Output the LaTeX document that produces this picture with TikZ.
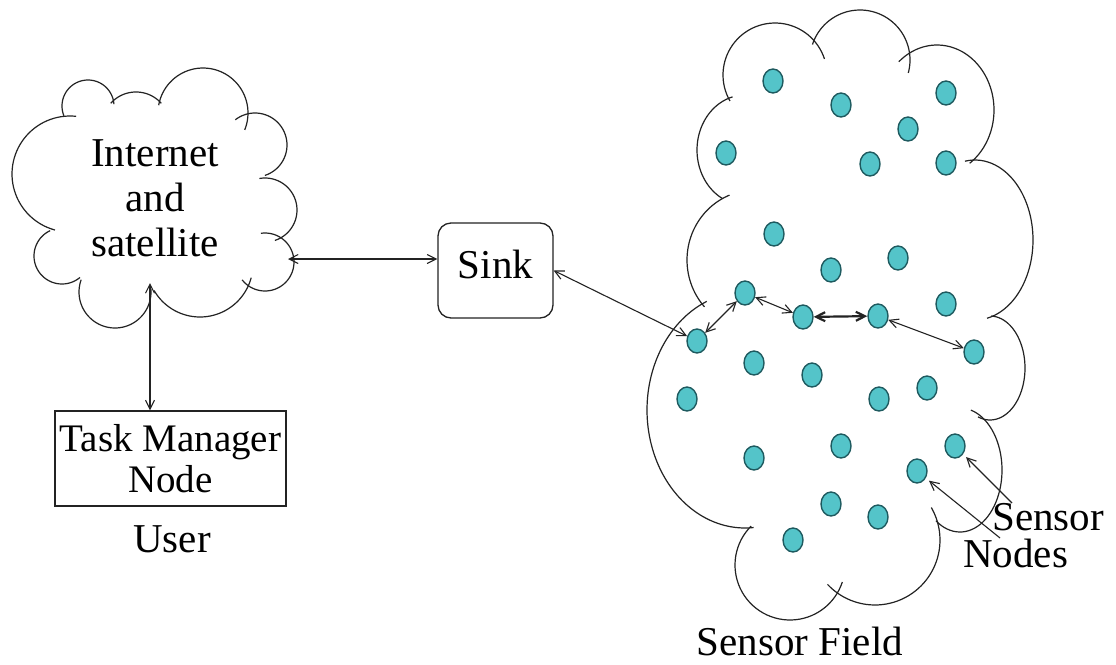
\documentclass[tikz,border=0pt]{standalone}
\usepackage{fontspec}
\setmainfont{Liberation Serif}
\usetikzlibrary{arrows.meta,shapes.geometric}
\definecolor{dotfill}{RGB}{84,196,201}
\definecolor{dotline}{RGB}{30,90,95}
\definecolor{ink}{RGB}{35,35,35}
\newcommand{\puff}[6]{\draw[cloudline] plot[domain=#5:#6,samples=48,smooth] ({#1+#3*cos(\x)},{#2+#4*sin(\x)});}
\begin{document}
\begin{tikzpicture}[x=1pt,y=-1pt,
  cloudline/.style={draw=ink,line width=1.2pt},
  lbl/.style={font=\fontsize{41}{45}\selectfont, inner sep=0pt},
  arr/.style={draw=ink,line width=1.1pt,{Straight Barb[length=9pt,width=9pt]}-{Straight Barb[length=9pt,width=9pt]}},
  ptr/.style={draw=ink,line width=1.1pt,-{Straight Barb[length=9pt,width=9pt]}},
  sensor/.style={ellipse,draw=dotline,fill=dotfill,line width=1.4pt,minimum width=20pt,minimum height=24pt,inner sep=0pt}]
\useasboundingbox[fill=white] (0,0) rectangle (1116,664);

% ---- left cloud (Internet and satellite)
\puff{88}{106}{26}{26}{158}{356}
\puff{136}{126}{34}{34}{222}{318}
\puff{203}{113}{45}{45}{190}{382}
\puff{255}{145}{32}{32}{232}{432}
\puff{265}{210}{32}{32}{-100}{72}
\puff{265}{262}{29}{29}{-98}{142}
\puff{200}{264}{53}{53}{15}{150}
\puff{115}{292}{36}{36}{-5}{200}
\puff{62}{256}{28}{28}{50}{245}
\puff{70}{174}{58}{58}{105}{276}
\node[lbl,align=center] (net) at (155,198) {Internet\\and\\satellite};
\coordinate (cloudR) at (288,259);
\coordinate (cloudB) at (150,283);

% ---- right cloud (sensor field)
\puff{775}{75}{52}{52}{150}{342}
\puff{860}{60}{50}{50}{198}{375}
\puff{937}{110}{57}{65}{228}{415}
\puff{975}{240}{58}{80}{-100}{78}
\puff{990}{368}{35}{52}{-88}{110}
\puff{960}{470}{42}{62}{-75}{125}
\puff{875}{540}{65}{65}{-30}{137}
\puff{790}{565}{55}{55}{18}{225}
\puff{745}{410}{98}{118}{85}{247}
\puff{755}{260}{68}{70}{138}{248}
\puff{745}{150}{48}{55}{118}{255}

% ---- boxes
\node[draw=ink,line width=1.3pt,rounded corners=13pt,minimum width=115pt,minimum height=95pt,
      text height=28pt,text depth=12pt,lbl] (sink) at (495.5,270.5) {Sink};
\node[draw=ink,line width=1.3pt,minimum width=231pt,minimum height=95pt,inner sep=0pt,
      align=center,font=\fontsize{39}{41}\selectfont] (task) at (170.5,458.5) {Task Manager\\Node};
\node[lbl,anchor=base] (user) at (172,552) {User};

% ---- sensor nodes
\foreach \n/\p in {1/{773,81},2/{841,105},3/{946,93},4/{908,129},5/{726,153},6/{870,164},
  7/{946,163},8/{774,234},9/{831,270},10/{898,258},11/{745,293},12/{946,304},13/{803,317},
  14/{878,316},15/{697,341},16/{974,352},17/{754,363},18/{812,375},19/{687,399},20/{879,399},
  21/{927,388},22/{754,458},23/{841,446},24/{955,446},25/{917,471},26/{831,504},27/{878,517},28/{793,540}}
  \node[sensor] (s\n) at (\p) {};

% ---- labels
\node[lbl,anchor=base] (field) at (800,655) {Sensor Field};
\node[inner sep=0pt,align=left,font=\fontsize{41}{37}\selectfont,anchor=north west] (lab)
  at (963,503) {\hspace*{29pt}Sensor\\Nodes};
\coordinate (p1) at (1012,503);
\coordinate (p2) at (1000,538);

% ---- connectors
\draw[arr] (cloudR) -- (cloudR -| sink.west);
\draw[arr] (cloudB) -- (cloudB |- task.north);
\draw[arr] (sink.east) -- (s15);
\draw[arr] (s15) -- (s11);
\draw[arr] (s11) -- (s13);
\draw[arr,line width=2.2pt] (s13) -- (s14);
\draw[arr] (s14) -- (s16);
\draw[ptr,shorten >=4pt] (p1) -- (s24);
\draw[ptr,shorten >=4pt] (p2) -- (s25);
\end{tikzpicture}
\end{document}
